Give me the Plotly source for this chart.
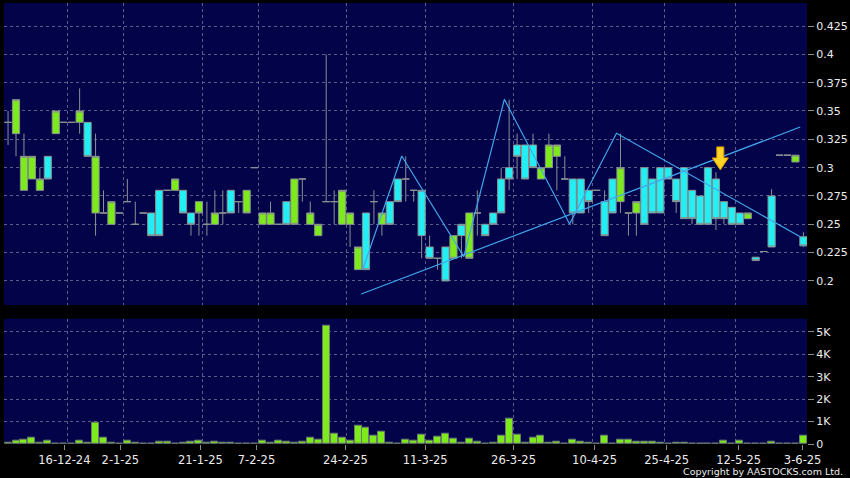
import plotly.graph_objects as go

# ---------------- data ----------------
idx = list(range(101))

opens = [0.34, 0.33, 0.28, 0.29, 0.28, 0.31, 0.33, 0.34, 0.34, 0.34,
         0.34, 0.26, 0.26, 0.25, 0.26, 0.27, 0.25, 0.26, 0.26, 0.28,
         0.28, 0.28, 0.28, 0.26, 0.27, 0.25, 0.25, 0.26, 0.28, 0.27,
         0.28, 0.30, 0.25, 0.25, 0.25, 0.27, 0.29, 0.29, 0.25, 0.24,
         0.27, 0.27, 0.25, 0.25, 0.21, 0.26, 0.27, 0.25, 0.27, 0.29,
         0.29, 0.28, 0.24, 0.23, 0.22, 0.23, 0.24, 0.24, 0.26, 0.26,
         0.25, 0.26, 0.29, 0.30, 0.32, 0.32, 0.32, 0.29, 0.30, 0.31,
         0.29, 0.29, 0.29, 0.28, 0.28, 0.27, 0.29, 0.27, 0.26, 0.26,
         0.30, 0.29, 0.30, 0.30, 0.29, 0.30, 0.28, 0.275, 0.30, 0.29,
         0.27, 0.265, 0.26, 0.255, 0.221, 0.226, 0.275, 0.311, 0.311, 0.305,
         0.239]
highs = [0.35, 0.36, 0.33, 0.31, 0.30, 0.31, 0.35, 0.34, 0.34, 0.37,
         0.34, 0.33, 0.28, 0.27, 0.26, 0.29, 0.27, 0.26, 0.26, 0.28,
         0.28, 0.29, 0.28, 0.26, 0.27, 0.27, 0.28, 0.28, 0.28, 0.27,
         0.28, 0.30, 0.26, 0.27, 0.25, 0.27, 0.29, 0.29, 0.27, 0.25,
         0.40, 0.28, 0.28, 0.26, 0.23, 0.26, 0.28, 0.26, 0.27, 0.29,
         0.31, 0.28, 0.28, 0.24, 0.22, 0.23, 0.24, 0.25, 0.26, 0.28,
         0.25, 0.26, 0.30, 0.36, 0.33, 0.32, 0.33, 0.30, 0.33, 0.32,
         0.31, 0.29, 0.29, 0.28, 0.28, 0.28, 0.29, 0.33, 0.26, 0.27,
         0.30, 0.29, 0.30, 0.30, 0.29, 0.30, 0.28, 0.275, 0.30, 0.296,
         0.27, 0.265, 0.26, 0.26, 0.221, 0.226, 0.281, 0.311, 0.311, 0.311,
         0.243]
lows = [0.32, 0.31, 0.28, 0.29, 0.28, 0.29, 0.33, 0.34, 0.34, 0.33,
        0.31, 0.24, 0.26, 0.25, 0.26, 0.27, 0.25, 0.26, 0.24, 0.24,
        0.28, 0.28, 0.26, 0.24, 0.24, 0.24, 0.25, 0.25, 0.26, 0.26,
        0.26, 0.30, 0.25, 0.25, 0.25, 0.25, 0.25, 0.27, 0.25, 0.24,
        0.27, 0.25, 0.25, 0.23, 0.21, 0.21, 0.25, 0.24, 0.25, 0.27,
        0.27, 0.27, 0.22, 0.22, 0.21, 0.20, 0.22, 0.22, 0.22, 0.24,
        0.24, 0.25, 0.26, 0.28, 0.29, 0.29, 0.30, 0.29, 0.30, 0.28,
        0.29, 0.25, 0.26, 0.26, 0.28, 0.24, 0.26, 0.26, 0.24, 0.24,
        0.25, 0.26, 0.26, 0.29, 0.26, 0.255, 0.25, 0.25, 0.25, 0.245,
        0.25, 0.25, 0.25, 0.255, 0.218, 0.226, 0.23, 0.311, 0.311, 0.305,
        0.23]
closes = [0.34, 0.36, 0.31, 0.31, 0.29, 0.29, 0.35, 0.34, 0.34, 0.35,
          0.31, 0.31, 0.26, 0.27, 0.26, 0.27, 0.25, 0.26, 0.24, 0.24,
          0.28, 0.29, 0.26, 0.25, 0.26, 0.25, 0.26, 0.26, 0.26, 0.27,
          0.26, 0.30, 0.26, 0.26, 0.25, 0.25, 0.25, 0.29, 0.26, 0.25,
          0.27, 0.27, 0.28, 0.26, 0.23, 0.21, 0.27, 0.26, 0.25, 0.27,
          0.29, 0.28, 0.28, 0.22, 0.22, 0.20, 0.22, 0.25, 0.22, 0.26,
          0.24, 0.25, 0.26, 0.29, 0.31, 0.29, 0.30, 0.30, 0.32, 0.32,
          0.29, 0.26, 0.26, 0.27, 0.28, 0.24, 0.26, 0.30, 0.26, 0.27,
          0.25, 0.26, 0.26, 0.29, 0.27, 0.255, 0.255, 0.25, 0.25, 0.255,
          0.255, 0.25, 0.25, 0.26, 0.218, 0.226, 0.23, 0.311, 0.311, 0.311,
          0.231]
# body colour of each candle: g = green, c = cyan
body = list("gggggcgggg" "cggggggccc" "ggccggggcg" "ggggccgggg"
            "gggggcggcc" "ggccgcgcgg" "cccccccggg" "gcccgccggg"
            "cccccccccc" "cccgcgcggg" "c")
volumes = [60, 150, 180, 300, 70, 150, 20, 0, 0, 150,
           50, 950, 280, 50, 10, 130, 50, 0, 20, 100,
           100, 0, 40, 100, 150, 40, 100, 70, 60, 0,
           0, 0, 130, 40, 160, 100, 40, 90, 280, 190,
           5270, 460, 300, 150, 800, 740, 370, 540, 70, 0,
           190, 130, 420, 150, 330, 480, 240, 40, 220, 90,
           0, 40, 360, 1120, 430, 40, 270, 360, 40, 100,
           30, 200, 90, 60, 0, 390, 0, 200, 200, 120,
           120, 100, 60, 0, 40, 40, 30, 10, 30, 30,
           130, 0, 130, 0, 0, 0, 120, 0, 0, 0,
           380]

date_labels = ["16-12-24", "2-1-25", "21-1-25", "7-2-25", "24-2-25", "11-3-25",
               "26-3-25", "10-4-25", "25-4-25", "12-5-25", "3-6-25"]
date_label_pos = [7.08, 14.12, 24.18, 31.23, 42.42, 52.45, 63.55, 73.74, 82.8, 91.85, 99.9]
date_grid_pos = [7.5, 14.5, 24.5, 31.5, 42.5, 52.5, 63.5, 73.5, 82.5, 91.5, 100.4]

price_ticks = [0.2, 0.225, 0.25, 0.275, 0.3, 0.325, 0.35, 0.375, 0.4, 0.425]
price_tick_text = ["0.2", "0.225", "0.25", "0.275", "0.3", "0.325", "0.35", "0.375", "0.4", "0.425"]
vol_ticks = [0, 1000, 2000, 3000, 4000, 5000]
vol_tick_text = ["0", "1K", "2K", "3K", "4K", "5K"]

# drawn analysis lines
zigzag_x = [44.6, 49.5, 57.3, 62.4, 70.6, 76.5, 99.6]
zigzag_y = [0.2103, 0.3103, 0.2215, 0.3603, 0.2503, 0.3303, 0.239]
trend_x = [44.4, 99.6]
trend_y = [0.1885, 0.3359]
marker_x = 89.55
marker_y = 0.298

# ---------------- styling ----------------
GREEN = "#7DEA1C"
CYAN = "#22EEF3"
OUTLINE = "#8a9090"
NAVY = "#03034a"
GRID = "#5c5c8c"
TXT = "#ececec"
FONT = "DejaVu Sans"

fig = go.Figure()

for kind, colour in (("g", GREEN), ("c", CYAN)):
    sel = [i for i in idx if body[i] == kind]
    fig.add_trace(go.Candlestick(
        x=[idx[i] for i in sel],
        open=[opens[i] for i in sel], high=[highs[i] for i in sel],
        low=[lows[i] for i in sel], close=[closes[i] for i in sel],
        increasing=dict(fillcolor=colour, line=dict(color=OUTLINE, width=1)),
        decreasing=dict(fillcolor=colour, line=dict(color=OUTLINE, width=1)),
        whiskerwidth=0, hoverinfo="skip", xaxis="x", yaxis="y", showlegend=False))

fig.add_trace(go.Scatter(x=trend_x, y=trend_y, mode="lines",
                         line=dict(color="#42a6ec", width=1.2),
                         hoverinfo="skip", xaxis="x", yaxis="y", showlegend=False))
fig.add_trace(go.Scatter(x=zigzag_x, y=zigzag_y, mode="lines",
                         line=dict(color="#42a6ec", width=1.2),
                         hoverinfo="skip", xaxis="x", yaxis="y", showlegend=False))

fig.add_trace(go.Bar(x=idx, y=volumes, width=0.88,
                     marker=dict(color=GREEN, line=dict(color="#6d7a6d", width=1)),
                     hoverinfo="skip", xaxis="x2", yaxis="y2", showlegend=False))

xcommon = dict(range=[-0.51, 100.45], showline=False, zeroline=False,
               showgrid=False,
               minor=dict(tickmode="array", tickvals=date_grid_pos, showgrid=True,
                          gridcolor=GRID, gridwidth=1, griddash="3px,3px", ticks=""),
               tickfont=dict(family=FONT, size=11.5, color=TXT))

fig.update_layout(
    width=850, height=478,
    margin=dict(l=4, r=43, t=3, b=34),
    paper_bgcolor="#000000", plot_bgcolor=NAVY,
    boxgap=0.1, boxgroupgap=0,
    bargap=0,
    showlegend=False,
    xaxis=dict(**xcommon, anchor="y", tickmode="array", tickvals=date_label_pos,
               showticklabels=False, ticks="", rangeslider=dict(visible=False)),
    xaxis2=dict(**xcommon, anchor="y2", matches="x", tickmode="array",
                tickvals=date_label_pos, ticktext=date_labels,
                ticks="outside", ticklen=5, tickcolor="#8a8a8a"),
    yaxis=dict(domain=[0.3152, 1.0], range=[0.1788, 0.4453], side="right",
               tickmode="array", tickvals=price_ticks, ticktext=price_tick_text,
               showgrid=True, gridcolor=GRID, griddash="3px,3px", gridwidth=1,
               zeroline=False, showline=False, ticks="outside", ticklen=6,
               tickcolor="#8a8a8a", tickfont=dict(family=FONT, size=11, color=TXT)),
    yaxis2=dict(domain=[0.0, 0.2841], range=[0, 5590], side="right",
                tickmode="array", tickvals=vol_ticks, ticktext=vol_tick_text,
                showgrid=True, gridcolor=GRID, griddash="3px,3px", gridwidth=1,
                zeroline=False, showline=False, ticks="outside", ticklen=6,
                tickcolor="#8a8a8a", tickfont=dict(family=FONT, size=11, color=TXT)),
    shapes=[dict(type="path", xref="x", yref="y", xsizemode="pixel", ysizemode="pixel",
                 xanchor=marker_x, yanchor=marker_y,
                 path="M 0,0 L -8,12 L -3.5,12 L -3.5,23 L 3.5,23 L 3.5,12 L 8,12 Z",
                 fillcolor="#FFD425", line=dict(color="#D89A00", width=1), layer="above")],
    annotations=[dict(text="Copyright by AASTOCKS.com Ltd.", xref="paper", yref="paper",
                      x=1.0473, y=-0.0628, xanchor="right", yanchor="middle",
                      showarrow=False, font=dict(family=FONT, size=9.5, color=TXT))],
)

fig.write_html("out.html", config={"displayModeBar": False},
               post_script="document.body.style.margin='0';document.body.style.background='#000';")
